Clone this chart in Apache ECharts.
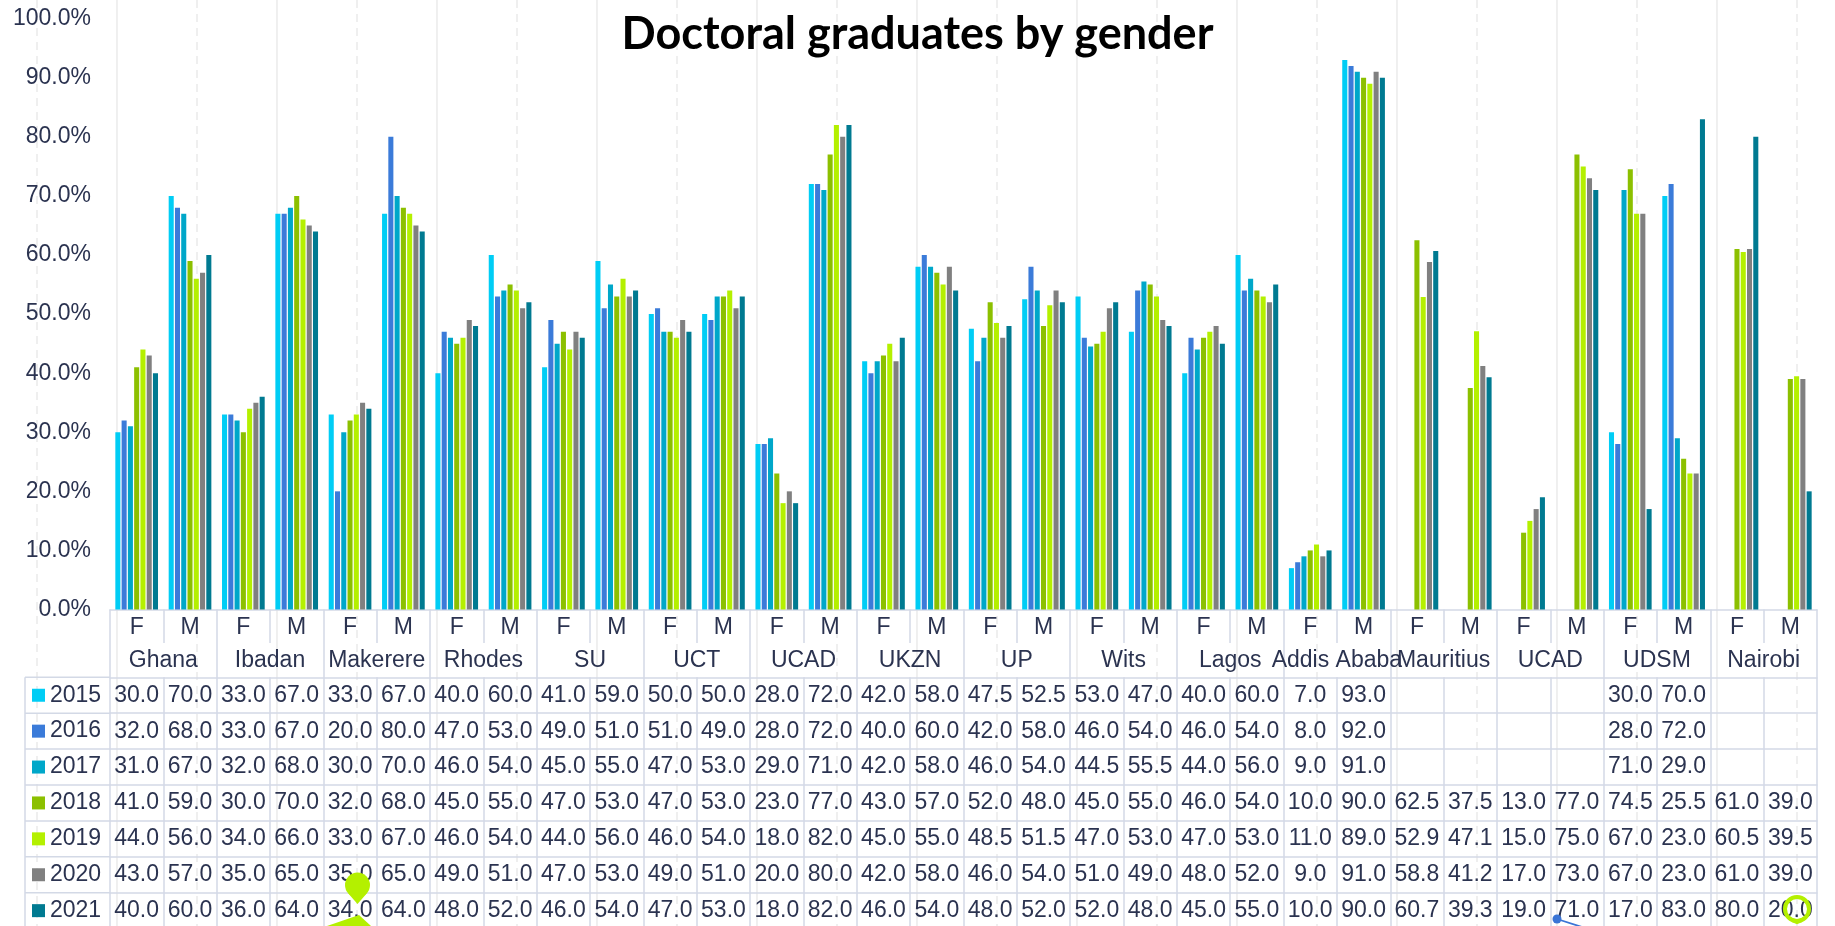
<!DOCTYPE html>
<html>
<head>
<meta charset="utf-8">
<script src="https://cdn.jsdelivr.net/npm/echarts@6/dist/echarts.min.js"></script>
<style>html,body{margin:0;padding:0;background:#fff;}#chart{width:1835px;height:926px;}</style>
</head>
<body>
<div id="chart"></div>
<script>
// ---- data ----
const institutions = ['Ghana','Ibadan','Makerere','Rhodes','SU','UCT','UCAD','UKZN','UP','Wits','Lagos','Addis Ababa','Mauritius','UCAD','UDSM','Nairobi'];
const genders = ['F','M'];
const years = ['2015','2016','2017','2018','2019','2020','2021'];
const v2015 = [30,70, 33,67, 33,67, 40,60, 41,59, 50,50, 28,72, 42,58, 47.5,52.5, 53,47, 40,60, 7,93, null,null, null,null, 30,70, null,null];
const v2016 = [32,68, 33,67, 20,80, 47,53, 49,51, 51,49, 28,72, 40,60, 42,58, 46,54, 46,54, 8,92, null,null, null,null, 28,72, null,null];
const v2017 = [31,67, 32,68, 30,70, 46,54, 45,55, 47,53, 29,71, 42,58, 46,54, 44.5,55.5, 44,56, 9,91, null,null, null,null, 71,29, null,null];
const v2018 = [41,59, 30,70, 32,68, 45,55, 47,53, 47,53, 23,77, 43,57, 52,48, 45,55, 46,54, 10,90, 62.5,37.5, 13,77, 74.5,25.5, 61,39];
const v2019 = [44,56, 34,66, 33,67, 46,54, 44,56, 46,54, 18,82, 45,55, 48.5,51.5, 47,53, 47,53, 11,89, 52.9,47.1, 15,75, 67,23, 60.5,39.5];
const v2020 = [43,57, 35,65, 35,65, 49,51, 47,53, 49,51, 20,80, 42,58, 46,54, 51,49, 48,52, 9,91, 58.8,41.2, 17,73, 67,23, 61,39];
const v2021 = [40,60, 36,64, 34,64, 48,52, 46,54, 47,53, 18,82, 46,54, 48,52, 52,48, 45,55, 10,90, 60.7,39.3, 19,71, 17,83, 80,20];
const seriesValues = [v2015, v2016, v2017, v2018, v2019, v2020, v2021];

// ---- styling ----
const colors = ['#00cdf5','#3b7bd9','#00a7c9','#8cc000','#b4f000','#808080','#007a91'];
const TXT = '#2b3350';
const LINE = '#d3d9e6';
const FONT = "'Liberation Sans', Arial, sans-serif";
const W = 1835, H = 926;
const GL = 110, GR = 18, GT = 18.7, GB = 316.5;
const PLOT_BOTTOM = H - GB;
const ROW0 = 677.3, ROWH = 35.9;

const categories = [];
institutions.forEach((inst, i) => genders.forEach(g => categories.push(i + ' ' + inst + ' ' + g)));

const lineStyle = {color: LINE, width: 1.5};
const xAxes = [
  {
    type: 'category', data: categories, position: 'bottom', offset: 0,
    axisLine: {show: true, lineStyle},
    axisTick: {show: true, interval: 0, length: 33.5, lineStyle},
    axisLabel: {interval: 0, margin: 7, fontSize: 23, color: TXT, fontFamily: FONT,
      formatter: (v, i) => genders[i % 2]},
    splitLine: {show: false}
  },
  {
    type: 'category', data: institutions, position: 'bottom', offset: 0,
    axisLine: {show: false},
    axisTick: {show: true, interval: 0, length: ROW0 - PLOT_BOTTOM, lineStyle},
    axisLabel: {interval: 0, margin: 40, fontSize: 23, color: TXT, fontFamily: FONT,
      formatter: (v, i) => institutions[i]},
    splitLine: {show: false}
  }
];
seriesValues.forEach((vals, k) => {
  xAxes.push({
    type: 'category', data: categories, position: 'bottom',
    offset: ROW0 - PLOT_BOTTOM + k * ROWH,
    axisLine: {show: true, lineStyle},
    axisTick: {show: true, interval: 0, length: ROWH, lineStyle},
    axisLabel: {interval: 0, margin: 6.5, fontSize: 23, color: TXT, fontFamily: FONT,
      formatter: (v, i) => (vals[i] == null ? '' : vals[i].toFixed(1))},
    splitLine: {show: false}
  });
});

const legends = years.map((y, k) => ({
  data: [y], left: 32, top: ROW0 + k * ROWH + ROWH / 2 - 12,
  orient: 'vertical', icon: 'rect', itemWidth: 13, itemHeight: 13, padding: 0,
  selectedMode: false,
  textStyle: {fontSize: 23, color: TXT, fontFamily: FONT, lineHeight: 24}
}));

const graphics = [];
// faint background vertical lines
for (let k = 0; k <= 22; k++) {
  const x = 37 + 80 * k;
  graphics.push({type: 'line', z: -10, silent: true,
    shape: {x1: x, y1: 0, x2: x, y2: H},
    style: {stroke: '#ececec', lineWidth: 1.6, lineDash: k % 2 === 0 ? [8, 6] : null}});
}
// left column borders of the data table
graphics.push({type: 'line', silent: true, shape: {x1: 25, y1: ROW0, x2: 25, y2: H}, style: {stroke: LINE, lineWidth: 1.5}});
for (let k = 0; k < 7; k++) {
  const y = ROW0 + k * ROWH;
  graphics.push({type: 'line', silent: true, shape: {x1: 25, y1: y, x2: GL, y2: y}, style: {stroke: LINE, lineWidth: 1.5}});
}
// stray overlay marks in the picture
function pinPts(cx, cy, r, tipY) {
  const d = tipY - cy, ca = r / d, sa = Math.sqrt(1 - ca * ca);
  return [[cx - r * sa, cy + r * ca], [cx, tipY], [cx + r * sa, cy + r * ca]];
}
graphics.push({type: 'circle', z: 50, silent: true, shape: {cx: 357.5, cy: 885, r: 12.5}, style: {fill: '#b4f000'}});
graphics.push({type: 'polygon', z: 50, silent: true, shape: {points: pinPts(357.5, 885, 12.5, 904)}, style: {fill: '#b4f000'}});
graphics.push({type: 'polygon', z: 50, silent: true, shape: {points: [[327, 926], [359, 915], [371, 926]]}, style: {fill: '#b4f000'}});
graphics.push({type: 'circle', z: 50, silent: true, shape: {cx: 1797, cy: 909, r: 12}, style: {fill: null, stroke: '#b4f000', lineWidth: 4}});
graphics.push({type: 'polyline', z: 50, silent: true, shape: {points: pinPts(1797, 909, 12, 922)}, style: {fill: null, stroke: '#b4f000', lineWidth: 4}});
graphics.push({type: 'line', z: 50, silent: true, shape: {x1: 1557, y1: 919, x2: 1582, y2: 927}, style: {stroke: '#3a75d6', lineWidth: 1.8}});
graphics.push({type: 'circle', z: 51, silent: true, shape: {cx: 1557, cy: 919, r: 4.5}, style: {fill: '#3a75d6'}});

const option = {
  animation: false,
  backgroundColor: '#fff',
  title: {
    text: 'Doctoral graduates by gender', left: 'center', top: 7,
    textStyle: {fontFamily: 'Lato, "Open Sans", sans-serif', fontWeight: 'bold', fontSize: 45, color: '#000'}
  },
  legend: legends,
  grid: {left: GL, right: GR, top: GT, bottom: GB, containLabel: false, outerBoundsMode: 'none'},
  xAxis: xAxes,
  yAxis: {
    type: 'value', min: 0, max: 100, interval: 10,
    axisLine: {show: false}, axisTick: {show: false}, splitLine: {show: false},
    axisLabel: {margin: 19, fontSize: 23, color: TXT, fontFamily: FONT, formatter: v => v.toFixed(1) + '%'}
  },
  series: seriesValues.map((vals, k) => ({
    name: years[k], type: 'bar', xAxisIndex: 0, yAxisIndex: 0,
    barGap: '24%', barCategoryGap: '20%',
    itemStyle: {color: colors[k]},
    emphasis: {disabled: true},
    data: vals
  })),
  graphic: graphics
};
const chart = echarts.init(document.getElementById('chart'), null, {renderer: 'canvas'});
chart.setOption(option);
</script>
</body>
</html>
